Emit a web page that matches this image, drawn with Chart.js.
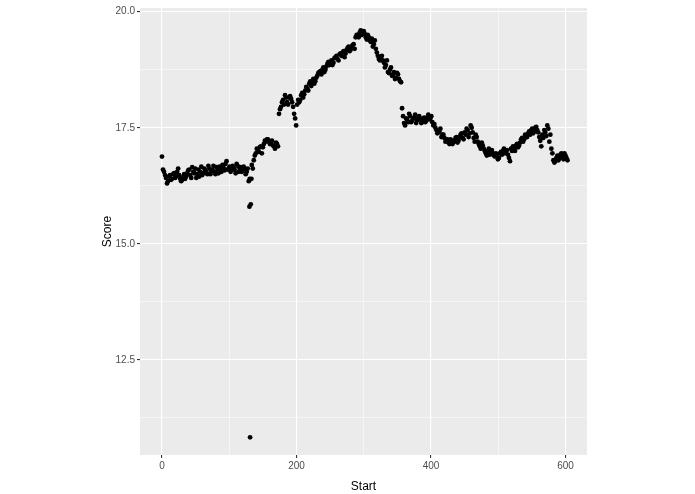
<!DOCTYPE html>
<html><head><meta charset="utf-8">
<script src="https://cdn.jsdelivr.net/npm/chart.js@4"></script>
<style>body{margin:0;background:#fff}</style></head>
<body><canvas id="c" width="695" height="494"></canvas>
<script>
const scores = [16.88,16.55,16.42,16.35,16.48,16.40,16.52,16.45,16.62,16.40,16.38,16.50,16.45,16.58,16.48,16.65,16.52,16.42,16.60,16.55,16.48,16.62,16.55,16.68,16.50,16.60,16.55,16.65,16.52,16.62,16.70,16.58,16.78,16.62,16.55,16.68,16.60,16.72,16.55,16.65,16.58,16.62,16.55,
16.35,15.85,16.62,16.90,17.05,16.98,17.10,17.08,17.22,17.25,17.20,17.18,17.12,17.05,17.15,17.80,17.95,18.10,18.20,18.05,18.15,18.12,17.95,17.70,18.00,18.05,18.20,18.15,18.30,18.35,18.45,18.40,18.55,18.50,18.62,18.70,18.65,18.80,18.75,18.88,18.85,18.95,18.90,19.02,18.98,19.08,19.05,19.15,19.10,19.22,19.15,19.25,19.30,19.45,19.48,19.55,19.50,19.58,19.45,19.50,19.38,19.42,19.30,19.20,19.05,18.95,19.05,18.90,18.85,18.70,18.75,18.62,18.70,18.58,18.65,18.50,17.92,17.60,17.70,17.62,17.75,17.65,17.72,17.60,17.70,17.68,17.62,17.72,17.65,17.78,17.70,17.62,17.58,17.45,17.40,17.48,17.35,17.28,17.22,17.18,17.25,17.15,17.20,17.30,17.22,17.35,17.28,17.40,17.48,17.30,17.55,17.40,17.20,17.30,17.15,17.05,17.12,17.00,16.90,17.05,17.00,16.95,16.88,16.92,16.85,16.98,17.00,16.95,17.02,16.85,17.05,17.10,17.00,17.15,17.12,17.25,17.20,17.35,17.30,17.42,17.45,17.38,17.50,17.45,17.30,17.10,17.28,17.40,17.55,17.20,17.05,16.80,16.78,16.90,16.85,16.95,16.82,16.90,16.80];
const starts = scores.map((_, i) => i * 3);
const scores2 = [16.60,16.48,16.30,16.45,16.38,16.50,16.42,16.55,16.48,16.35,16.44,16.40,16.52,16.60,16.42,16.55,16.62,16.50,16.45,16.66,16.52,16.58,16.50,16.62,16.56,16.68,16.50,16.58,16.66,16.55,16.64,16.72,16.60,16.66,16.58,16.64,16.52,16.68,16.62,16.55,16.66,16.50,16.62,16.40,
16.70,16.80,16.95,17.00,17.08,16.95,17.15,17.20,17.25,17.15,17.22,17.10,17.18,17.10,17.90,18.05,18.00,18.15,18.00,18.18,18.05,17.80,17.55,18.10,18.10,18.25,18.22,18.38,18.30,18.50,18.48,18.45,18.58,18.68,18.72,18.75,18.70,18.82,18.92,18.88,18.85,19.00,19.05,18.95,19.10,19.12,19.02,19.18,19.25,19.18,19.28,19.20,19.50,19.45,19.60,19.55,19.52,19.40,19.45,19.35,19.25,19.38,19.12,18.98,19.00,18.95,18.80,18.95,18.68,18.80,18.65,18.55,18.68,18.55,18.48,17.75,17.55,17.68,17.80,17.62,17.70,17.78,17.66,17.75,17.60,17.70,17.62,17.72,17.68,17.75,17.55,17.50,17.38,17.42,17.30,17.35,17.20,17.25,17.15,17.20,17.22,17.28,17.18,17.30,17.38,17.25,17.35,17.45,17.38,17.50,17.28,17.35,17.20,17.10,17.18,17.05,16.95,17.00,16.92,17.02,16.90,16.95,16.82,16.95,16.92,17.05,16.98,16.92,16.78,17.00,17.05,17.12,17.08,17.18,17.28,17.25,17.30,17.38,17.35,17.48,17.42,17.52,17.40,17.22,17.35,17.45,17.32,17.48,17.35,16.95,16.75,16.85,16.80,16.92,16.88,16.95,16.85];
const starts2 = scores2.map((_, i) => 1.5 + i * 3);
const extraStarts = [130, 131, 133];
const extraScores = [15.80, 10.83, 16.40];
const xTicks = [0, 100, 200, 300, 400, 500, 600];
const xLabels = [0, 200, 400, 600];
const yTicks = [11.25, 12.5, 13.75, 15, 16.25, 17.5, 18.75, 20];
const yLabels = [12.5, 15, 17.5, 20];

const pts = starts.map((s, i) => ({x: s, y: scores[i]}))
  .concat(starts2.map((s, i) => ({x: s, y: scores2[i]})))
  .concat(extraStarts.map((s, i) => ({x: s, y: extraScores[i]})));

const bg = {id:'bg', beforeDraw(c){const a=c.chartArea,g=c.ctx;g.save();g.fillStyle='#EBEBEB';g.fillRect(a.left,a.top,a.right-a.left,a.bottom-a.top);g.restore();}};
const isMajX = v => xLabels.includes(v), isMajY = v => yLabels.some(l => Math.abs(l - v) < 1e-6);

new Chart(document.getElementById('c'), {
  type: 'scatter',
  data: {datasets: [{data: pts, backgroundColor: '#000', borderColor: '#000', pointRadius: 2.4, borderWidth: 0}]},
  options: {
    responsive: false, animation: false, devicePixelRatio: 1,
    layout: {padding: {top: 5, right: 108, left: 100, bottom: 0}},
    plugins: {legend: {display: false}, tooltip: {enabled: false}},
    scales: {
      x: {type: 'linear', min: -32.7, max: 632,
        afterBuildTicks: s => { s.ticks = xTicks.map(v => ({value: v})); },
        afterFit: s => { s.height = 39; },
        border: {display: false},
        grid: {color: '#fff', lineWidth: c => isMajX(c.tick.value) ? 1.1 : 0.5, tickLength: 3,
          tickColor: c => isMajX(c.tick.value) ? '#333' : 'rgba(0,0,0,0)'},
        ticks: {color: '#4D4D4D', font: {family: 'Liberation Sans', size: 10}, padding: 2,
          callback: v => isMajX(v) ? String(v) : ''},
        title: {display: true, text: 'Start', color: '#000', font: {family: 'Liberation Sans', size: 12}, padding: {top: 2, bottom: 0}}
      },
      y: {type: 'linear', min: 10.45, max: 20.08,
        afterBuildTicks: s => { s.ticks = yTicks.map(v => ({value: v})); },
        afterFit: s => { s.width = 40; },
        border: {display: false},
        grid: {color: '#fff', lineWidth: c => isMajY(c.tick.value) ? 1.1 : 0.5, tickLength: 3,
          tickColor: c => isMajY(c.tick.value) ? '#333' : 'rgba(0,0,0,0)'},
        ticks: {color: '#4D4D4D', font: {family: 'Liberation Sans', size: 10}, padding: 2,
          callback: v => isMajY(v) ? v.toFixed(1) : ''},
        title: {display: true, text: 'Score', color: '#000', font: {family: 'Liberation Sans', size: 12}, padding: {top: 0, bottom: 2}}
      }
    }
  },
  plugins: [bg]
});
</script></body></html>
